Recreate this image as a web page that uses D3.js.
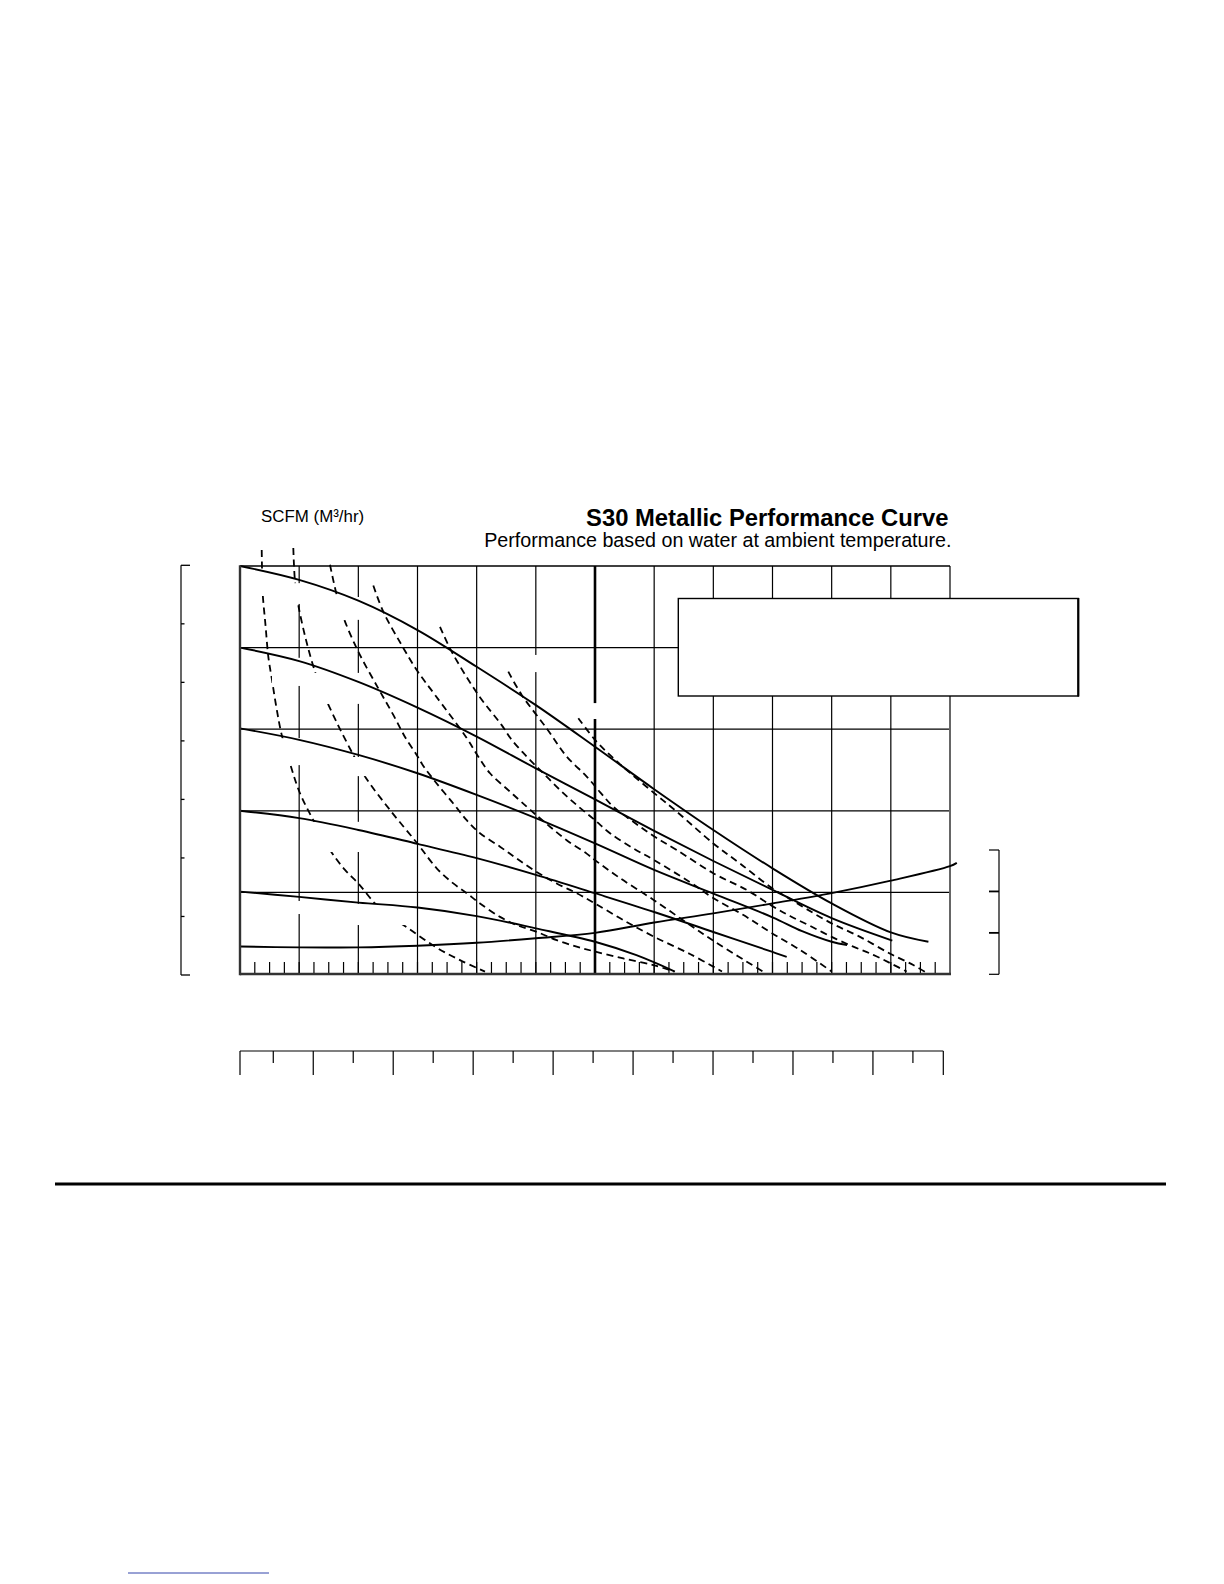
<!doctype html>
<html>
<head>
  <title>S30 Metallic Performance Curve</title>
  <meta charset="UTF-8">
  <script src="https://d3js.org/d3.v7.min.js"></script>
  <style>
    body { margin: 0; background: #fff; }
    svg { display: block; }
  </style>
</head>
<body>
  <div id="svg_area"></div>

<script>
// ---- chart values ----
// flow axis (US GPM) grid and head axis (psig) grid
var gpmGrid = [20, 40, 60, 80, 100, 120, 140, 160, 180, 200, 220];
var psiGrid = [20, 40, 60, 80];
var gpmMinorTicks = d3.range(5, 240, 5);
var barTicks = [0, 1, 2, 3, 4, 5, 6, 7];
var rightTicks = [0, 10, 20, 30];
var lpmTicks = d3.range(50, 900, 50);

// head curves at each air inlet pressure, [gpm, psig]
var head100 = [[0,100],[20,96.6],[40,91.5],[60,84.3],[80,75.3],[100,65.9],[120,55.7],[140,45.3],[160,35.3],[180,25.9],[200,17.3],[220,10.2],[232.7,7.9]];
var head80  = [[0,80],[20,76.7],[40,71.6],[60,65.3],[80,58.2],[100,50.4],[120,42.8],[140,35.1],[160,27.7],[180,20.6],[200,13.7],[220.5,8.2]];
var head60  = [[0,60.2],[20,57.4],[40,53.7],[60,49.2],[80,43.9],[100,38.2],[120,32.0],[140,25.5],[160,19.7],[180,13.9],[190,10.5],[200,7.9],[205.2,7.1]];
var head40  = [[0,40],[20,38.2],[40,35.3],[60,31.9],[80,28.4],[100,24.3],[120,19.8],[140,15.2],[160,10.3],[180,5.4],[184.8,4.2]];
var head20  = [[0,20.2],[20,18.9],[40,17.5],[60,16.3],[80,14.2],[100,11.2],[120,7.9],[134,4.6],[147,0.6]];
var headCurves = [head100, head80, head60, head40, head20];

// rising curve read on the right hand scale, [gpm, value]
var risingCurve = [[0,6.7],[20,6.5],[40,6.5],[60,6.9],[80,7.6],[100,8.7],[120,10.0],[140,12.5],[160,14.7],[180,17.1],[200,19.6],[220,22.6],[240,26.1],[242.3,26.9]];

// air consumption (SCFM) lines, [gpm, psig]
var air1 = [[7.34,103.9],[7.44,99.5],[7.67,93.3],[8.62,85.5],[9.57,77.8],[10.72,72.5],[12.17,65.9],[14.10,58.6],[17.24,50.8],[20.28,44.3],[24.78,37.7],[30.42,30.4],[35.49,25.5],[39.99,22.2],[45.63,17.3],[50.70,14.2],[56.89,11.2],[65.92,6.7],[74.37,3.4],[82.82,0.6]];
var air2 = [[18.02,104.4],[18.59,96.2],[19.71,90.4],[22.31,81.9],[25.35,74.1],[28.16,68.8],[33.13,61.0],[38.30,53.7],[42.25,48.4],[50.70,40.2],[59.83,32.1],[66.49,25.9],[72.10,22.2],[76.63,19.8],[81.13,17.3],[87.89,14.0],[93.53,12.0],[100.06,10.4],[107.05,8.3],[113.81,6.7],[120.0,5.5],[129.57,3.8],[139.71,2.2],[146.70,0.6]];
var air3 = [[30.42,100.3],[32.69,92.9],[34.92,87.5],[39.99,79.0],[46.75,70.0],[51.82,63.5],[55.77,58.1],[59.73,53.7],[61.96,51.0],[66.49,46.7],[72.10,41.8],[76.63,37.7],[81.13,34.5],[87.89,31.2],[93.53,28.3],[100.06,25.1],[107.05,22.2],[113.81,19.8],[120.0,17.3],[129.57,13.2],[140.05,9.1],[152.11,4.9],[162.93,0.6]];
var air4 = [[45.06,95.2],[48.44,88.8],[54.66,80.6],[59.73,74.5],[65.92,68.4],[76.39,58.1],[80.45,53.4],[84.51,49.2],[91.27,44.7],[96.91,41.0],[100.06,39.0],[104.79,36.1],[110.43,32.8],[117.19,29.5],[120.0,27.9],[128.45,23.5],[139.94,18.1],[152.11,12.0],[162.25,7.1],[176.79,0.6]];
var air5 = [[67.61,85.1],[71.56,79.0],[80.55,68.4],[88.46,61.0],[91.84,57.4],[96.91,53.3],[102.52,49.2],[108.17,45.1],[113.82,41.4],[120.0,37.7],[125.07,34.5],[132.95,30.8],[140.04,27.9],[152.11,22.5],[159.99,18.6],[170.03,14.5],[179.16,10.3],[189.30,5.9],[200.01,0.6]];
var air6 = [[90.69,74.1],[95.22,68.4],[103.67,60.2],[110.43,53.3],[117.19,48.4],[121.69,44.6],[126.19,41.0],[132.95,37.3],[140.04,33.7],[147.62,30.4],[159.99,24.7],[171.28,20.6],[179.83,16.7],[185.92,14.2],[192.68,11.8],[200.01,9.1],[207.31,6.7],[214.07,4.7],[219.95,2.6],[225.36,0.6]];
var air7 = [[114.36,62.7],[120.0,57.4],[125.75,53.2],[131.83,49.3],[140.05,44.3],[147.62,39.8],[159.99,32.0],[169.01,27.1],[179.93,21.0],[185.92,18.4],[191.56,15.9],[200.01,12.4],[209.58,9.1],[219.95,4.9],[227.60,2.2],[231.55,0.5]];
var airCurves = [air1, air2, air3, air4, air5, air6, air7];

// blanked areas where the curve labels sit, [gpm0, psi0, gpm1, psi1]
var labelGaps = [
  [4.1,99.0,16.9,93.6], [16.2,95.8,28.7,90.7], [31.8,92.4,43.3,86.8],
  [10.8,77.5,22.3,70.6], [24.3,73.8,42.3,66.2], [13.2,57.8,22.3,51.2],
  [37.2,53.2,44.6,48.5], [20.3,37.3,41.2,29.9], [39.2,17.2,55.8,12.0],
  [116.6,66.4,123.4,62.5], [96.3,78.2,104.1,74.0], [16.9,17.9,23.7,14.7]
];

// ---- layout ----
var pageW = 1224, pageH = 1584;
var plotLeft = 240, plotRight = 950, plotTop = 566, plotBottom = 974;
var font = "'Liberation Sans', Arial, Helvetica, sans-serif";

var svg = d3.select("#svg_area").append("svg")
    .attr("width", pageW)
    .attr("height", pageH)
    .style("background", "#fff");

// scales
var xScale = d3.scaleLinear().domain([0, 240]).range([plotLeft, plotRight]);
var yScale = d3.scaleLinear().domain([0, 100]).range([plotBottom, plotTop]);
var barScale = d3.scaleLinear().domain([0, 7]).range([975, 565.3]);
var rightScale = d3.scaleLinear().domain([0, 30]).range([974.3, 850]);
var lpmScale = d3.scaleLinear().domain([0, 888]).range([233.3, 943.3]);

var line = d3.line()
    .x(function(d){ return xScale(d[0]); })
    .y(function(d){ return yScale(d[1]); })
    .curve(d3.curveCatmullRom.alpha(0.5));

var risingLine = d3.line()
    .x(function(d){ return xScale(d[0]); })
    .y(function(d){ return rightScale(d[1]); })
    .curve(d3.curveCatmullRom.alpha(0.5));

// grid
svg.append("g").selectAll("line")
    .data(gpmGrid).enter().append("line")
    .attr("x1", function(d){ return xScale(d); })
    .attr("x2", function(d){ return xScale(d); })
    .attr("y1", plotTop).attr("y2", plotBottom)
    .attr("stroke", "#000")
    .attr("stroke-width", function(d){ return d === 120 ? 2.6 : 1.2; });

svg.append("g").selectAll("line")
    .data(psiGrid).enter().append("line")
    .attr("x1", plotLeft).attr("x2", plotRight)
    .attr("y1", function(d){ return yScale(d); })
    .attr("y2", function(d){ return yScale(d); })
    .attr("stroke", "#000")
    .attr("stroke-width", 1.2);

// right side of the frame goes under the legend box
svg.append("line").attr("x1", plotRight).attr("x2", plotRight)
    .attr("y1", plotTop).attr("y2", plotBottom)
    .attr("stroke", "#666").attr("stroke-width", 2);

// air consumption lines (dashed)
svg.append("g").selectAll("path")
    .data(airCurves).enter().append("path")
    .attr("d", line)
    .attr("fill", "none")
    .attr("stroke", "#000")
    .attr("stroke-width", 1.8)
    .attr("stroke-dasharray", "7,4.5");

// white label areas (the label text itself is not in the reference)
svg.append("g").selectAll("rect")
    .data(labelGaps).enter().append("rect")
    .attr("x", function(d){ return xScale(d[0]); })
    .attr("y", function(d){ return yScale(d[1]); })
    .attr("width", function(d){ return xScale(d[2]) - xScale(d[0]); })
    .attr("height", function(d){ return yScale(d[3]) - yScale(d[1]); })
    .attr("fill", "#fff");

// legend frame
svg.append("rect")
    .attr("x", 678.3).attr("y", 598.5)
    .attr("width", 400).attr("height", 97.5)
    .attr("fill", "#fff")
    .attr("stroke", "#000")
    .attr("stroke-width", 1.4);
svg.append("line")
    .attr("x1", 1078.3).attr("x2", 1078.3)
    .attr("y1", 598).attr("y2", 696.5)
    .attr("stroke", "#000").attr("stroke-width", 2.2);

// head curves
svg.append("g").selectAll("path")
    .data(headCurves).enter().append("path")
    .attr("d", line)
    .attr("fill", "none")
    .attr("stroke", "#000")
    .attr("stroke-width", 1.9);

svg.append("path")
    .attr("d", risingLine(risingCurve))
    .attr("fill", "none")
    .attr("stroke", "#000")
    .attr("stroke-width", 1.9);

// minor flow ticks along the bottom
svg.append("g").selectAll("line")
    .data(gpmMinorTicks).enter().append("line")
    .attr("x1", function(d){ return xScale(d); })
    .attr("x2", function(d){ return xScale(d); })
    .attr("y1", plotBottom).attr("y2", plotBottom - 12)
    .attr("stroke", "#000")
    .attr("stroke-width", 1.2);

// rest of the plot frame
svg.append("line").attr("x1", plotLeft).attr("x2", plotRight)
    .attr("y1", plotTop).attr("y2", plotTop)
    .attr("stroke", "#000").attr("stroke-width", 1.5);
svg.append("line").attr("x1", plotLeft).attr("x2", plotLeft)
    .attr("y1", plotTop - 0.7).attr("y2", plotBottom + 1.2)
    .attr("stroke", "#333").attr("stroke-width", 2.4);
svg.append("line").attr("x1", plotLeft).attr("x2", plotRight + 1)
    .attr("y1", plotBottom).attr("y2", plotBottom)
    .attr("stroke", "#333").attr("stroke-width", 2.4);

// left bracket axis
var leftX = 181;
svg.append("line").attr("x1", leftX).attr("x2", leftX)
    .attr("y1", barScale(7)).attr("y2", barScale(0))
    .attr("stroke", "#000").attr("stroke-width", 1.2);
svg.append("g").selectAll("line")
    .data(barTicks).enter().append("line")
    .attr("x1", leftX)
    .attr("x2", function(d){ return (d === 0 || d === 7) ? leftX + 9 : leftX + 3.5; })
    .attr("y1", function(d){ return barScale(d); })
    .attr("y2", function(d){ return barScale(d); })
    .attr("stroke", "#000")
    .attr("stroke-width", 1.3);

// right bracket axis
var rightX = 999;
svg.append("line").attr("x1", rightX).attr("x2", rightX)
    .attr("y1", rightScale(30)).attr("y2", rightScale(0))
    .attr("stroke", "#000").attr("stroke-width", 1.2);
svg.append("g").selectAll("line")
    .data(rightTicks).enter().append("line")
    .attr("x1", rightX - 10).attr("x2", rightX)
    .attr("y1", function(d){ return rightScale(d); })
    .attr("y2", function(d){ return rightScale(d); })
    .attr("stroke", "#000")
    .attr("stroke-width", function(d){ return (d === 10 || d === 20) ? 1.8 : 1.2; });

// metric flow axis below the plot
var lpmY = 1051;
var lpmMax = 888;
svg.append("line").attr("x1", plotLeft).attr("x2", lpmScale(lpmMax))
    .attr("y1", lpmY).attr("y2", lpmY)
    .attr("stroke", "#000").attr("stroke-width", 1.2);
svg.append("g").selectAll("line")
    .data(lpmTicks).enter().append("line")
    .attr("x1", function(d){ return lpmScale(d); })
    .attr("x2", function(d){ return lpmScale(d); })
    .attr("y1", lpmY)
    .attr("y2", function(d){ return d % 100 === 0 ? lpmY + 24 : lpmY + 12; })
    .attr("stroke", "#000")
    .attr("stroke-width", 1.2);
svg.append("g").selectAll("line")
    .data([plotLeft, lpmScale(lpmMax)]).enter().append("line")
    .attr("x1", function(d){ return d; })
    .attr("x2", function(d){ return d; })
    .attr("y1", lpmY).attr("y2", lpmY + 24)
    .attr("stroke", "#000")
    .attr("stroke-width", 1.2);

// texts
svg.append("text")
    .attr("x", 948.5).attr("y", 526)
    .attr("text-anchor", "end")
    .attr("font-family", font)
    .attr("font-weight", "bold")
    .attr("font-size", "23.8px")
    .text("S30 Metallic Performance Curve");

svg.append("text")
    .attr("x", 951.5).attr("y", 546.5)
    .attr("text-anchor", "end")
    .attr("font-family", font)
    .attr("font-size", "19.7px")
    .text("Performance based on water at ambient temperature.");

svg.append("text")
    .attr("x", 261).attr("y", 522)
    .attr("font-family", font)
    .attr("font-size", "16.9px")
    .text("SCFM (M³/hr)");

// page rule under the chart and the short line at the foot of the page
svg.append("line").attr("x1", 55).attr("x2", 1166)
    .attr("y1", 1184).attr("y2", 1184)
    .attr("stroke", "#000").attr("stroke-width", 3.2);
svg.append("line").attr("x1", 128).attr("x2", 269)
    .attr("y1", 1573).attr("y2", 1573)
    .attr("stroke", "#3344aa").attr("stroke-width", 1);
</script>
</body>
</html>
